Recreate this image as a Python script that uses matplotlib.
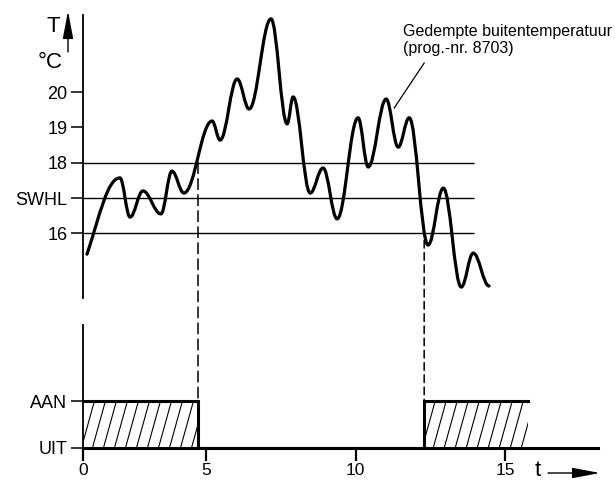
import numpy as np
import matplotlib
matplotlib.use('Agg')
import matplotlib.pyplot as plt
from matplotlib.path import Path
from matplotlib.patches import PathPatch, Rectangle, ConnectionPatch
from matplotlib.collections import LineCollection

plt.rcParams['font.family'] = ['Liberation Sans', 'DejaVu Sans']

W, H = 615, 482

# gedempte buitentemperatuur, toppen en dalen van de kromme (t, T)
curve_t = [1.02, 2.12, 2.46, 2.89, 3.49, 3.86, 4.26, 5.20, 5.47, 6.04, 6.44, 7.17, 7.71, 7.91,
           8.48, 8.91, 9.38, 10.08, 10.42, 11.02, 11.42, 11.79, 12.42, 12.93, 13.53, 13.93, 14.46]
curve_T = [15.41, 17.57, 16.46, 17.20, 16.55, 17.76, 17.14, 19.18, 18.64, 20.37, 19.52, 22.07, 19.10, 19.86,
           17.14, 17.85, 16.41, 19.27, 17.88, 19.80, 18.44, 19.27, 15.67, 17.28, 14.48, 15.44, 14.51]

temp_ticks = [16, 17, 18, 19, 20]
temp_labels = ['16', 'SWHL', '18', '19', '20']
ref_lines = [16, 17, 18]

t_ticks = [0.9, 5, 10, 15]   # "0" staat op de as
t_labels = ['0', '5', '10', '15']

switch_t = [4.73, 12.29]     # omschakelmomenten
switch_T = [18.0, 15.8]
on_periods = [(0.9, 4.73), (12.29, 15.77)]
state_ticks = [0, 1]
state_labels = ['UIT', 'AAN']

X0, X1 = 0.9, 18.1

fig = plt.figure(figsize=(W / 100, H / 100), dpi=100)

# ---- bovenste grafiek: temperatuur
ax1 = fig.add_axes([83.4 / W, 184 / H, (598 - 83.4) / W, 283 / H])
ax1.set_xlim(X0, X1)
ax1.set_ylim(14.17, 22.18)
for s in ['top', 'right', 'bottom']:
    ax1.spines[s].set_visible(False)
ax1.spines['left'].set_linewidth(1.3)
ax1.set_xticks([])
ax1.set_yticks(temp_ticks)
ax1.set_yticklabels(temp_labels)
ax1.tick_params(axis='y', direction='out', length=8.5, width=1.1, labelsize=13, pad=3)
ax1.patch.set_alpha(0)

ax1.hlines(ref_lines, X0, 13.96, color='black', lw=1.0)

# vloeiende kromme: bezier-segmenten tussen toppen/dalen
k = 0.38
slopes = [0.0] * len(curve_t)
slopes[0] = 1.3 * (curve_T[1] - curve_T[0]) / (curve_t[1] - curve_t[0])
verts = [(curve_t[0], curve_T[0])]
codes = [Path.MOVETO]
for i in range(len(curve_t) - 1):
    dx = curve_t[i + 1] - curve_t[i]
    verts += [(curve_t[i] + k * dx, curve_T[i] + slopes[i] * k * dx),
              (curve_t[i + 1] - k * dx, curve_T[i + 1] - slopes[i + 1] * k * dx),
              (curve_t[i + 1], curve_T[i + 1])]
    codes += [Path.CURVE4] * 3
ax1.add_patch(PathPatch(Path(verts, codes), fill=False, lw=2.3, edgecolor='black', capstyle='round'))

ax1.text(11.59, 21.93, 'Gedempte buitentemperatuur\n(prog.-nr. 8703)', fontsize=11.5,
         ha='left', va='top', linespacing=1.15)
ax1.plot([12.29, 11.29], [20.82, 19.55], color='black', lw=0.9)

# ---- onderste grafiek: schakeltoestand
ax2 = fig.add_axes([83.4 / W, 34 / H, (598 - 83.4) / W, 123 / H])
ax2.set_xlim(X0, X1)
ax2.set_ylim(0, 2.62)
for s in ['top', 'right']:
    ax2.spines[s].set_visible(False)
ax2.spines['left'].set_linewidth(1.3)
ax2.spines['bottom'].set_linewidth(2.2)
ax2.set_yticks(state_ticks)
ax2.set_yticklabels(state_labels)
ax2.set_xticks(t_ticks)
ax2.set_xticklabels(t_labels)
ax2.tick_params(axis='y', direction='out', length=8.5, width=1.1, labelsize=13, pad=3)
ax2.tick_params(axis='x', direction='out', length=9, width=1.6, labelsize=12.5, pad=2)
ax2.patch.set_alpha(0)

step_t = [on_periods[0][0], switch_t[0], switch_t[0], switch_t[1], switch_t[1], on_periods[1][1]]
step_v = [1, 1, 0, 0, 1, 1]
ax2.plot(step_t, step_v, color='black', lw=2.2, solid_joinstyle='miter', zorder=3)

# schuine arcering van de AAN-perioden
dx_h = 11 / 29.9
lean = 13 / 29.9
for a, b in on_periods:
    rect = Rectangle((a, 0), b - a, 1, facecolor='none', edgecolor='none')
    ax2.add_patch(rect)
    xs = np.arange(a - lean, b + dx_h, dx_h)
    segs = [[(x, 0), (x + lean, 1)] for x in xs]
    lc = LineCollection(segs, colors='black', linewidths=0.8)
    ax2.add_collection(lc)
    lc.set_clip_path(rect)

for tt, TT, dash in zip(switch_t, switch_T, [(0, (7, 3.5)), (0, (5, 3))]):
    con = ConnectionPatch(xyA=(tt, TT), coordsA=ax1.transData, xyB=(tt, 1), coordsB=ax2.transData,
                          color='black', lw=1.1, linestyle=dash)
    fig.add_artist(con)

# aslabels met pijlen
fig.text(53 / W, 1 - 27 / H, 'T', fontsize=16, ha='center', va='center')
fig.text(50 / W, 1 - 63 / H, '°C', fontsize=16, ha='center', va='center')
fig.text(538 / W, 1 - 470 / H, 't', fontsize=16, ha='center', va='center')
arrow = dict(arrowstyle='-|>,head_length=1.7,head_width=0.32', color='black', lw=1.0,
             shrinkA=0, shrinkB=0, mutation_scale=10)
ax1.annotate('', xy=(68, H - 11), xytext=(68, H - 52), xycoords='figure pixels',
             textcoords='figure pixels', arrowprops=arrow)
ax2.annotate('', xy=(600, H - 473), xytext=(548, H - 473), xycoords='figure pixels',
             textcoords='figure pixels', arrowprops=arrow)

plt.savefig('out.png', dpi=100)
